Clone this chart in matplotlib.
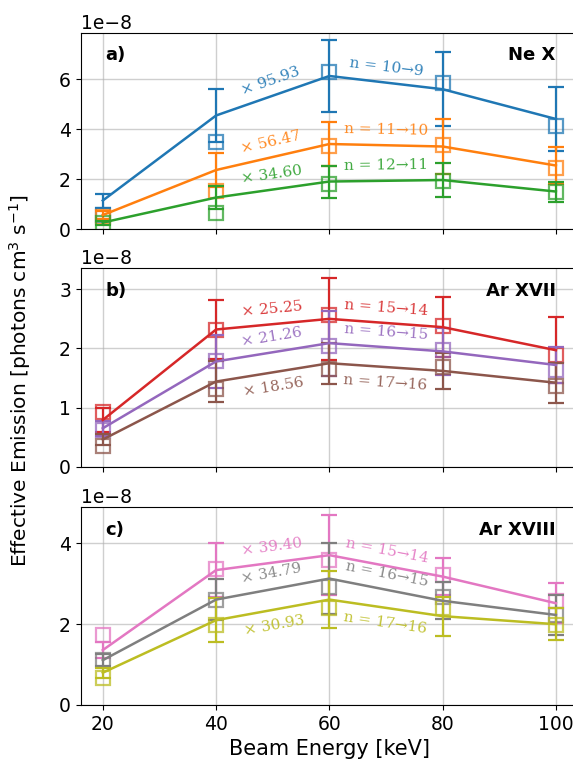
import numpy as np
import matplotlib
matplotlib.use("Agg")
import matplotlib.pyplot as plt

# Beam energies (keV)
energy = [20, 40, 60, 80, 100]

# Panel a) Ne X -- scaled model (line), its uncertainty, measured points (squares), in 1e-8
ne_model = [[1.15, 4.55, 6.13, 5.60, 4.41],
            [0.57, 2.37, 3.41, 3.31, 2.55],
            [0.27, 1.27, 1.91, 1.97, 1.51]]
ne_err = [[0.28, 1.05, 1.44, 1.47, 1.29],
          [0.15, 0.67, 0.86, 1.09, 0.73],
          [0.08, 0.45, 0.64, 0.67, 0.40]]
ne_meas = [[0.57, 3.50, 6.30, 5.84, 4.13],
           [0.50, 1.55, 3.33, 3.37, 2.44],
           [0.24, 0.67, 1.81, 1.93, 1.50]]
ne_scale = ["× 95.93", "× 56.47", "× 34.60"]
ne_trans = ["n = 10→9", "n = 11→10", "n = 12→11"]

# Panel b) Ar XVII
ar17_model = [[0.79, 2.32, 2.50, 2.36, 1.97],
              [0.65, 1.78, 2.09, 1.95, 1.72],
              [0.46, 1.44, 1.75, 1.62, 1.42]]
ar17_err = [[0.20, 0.50, 0.69, 0.51, 0.56],
            [0.13, 0.45, 0.55, 0.40, 0.30],
            [0.10, 0.35, 0.35, 0.31, 0.34]]
ar17_meas = [[0.93, 2.32, 2.57, 2.38, 1.89],
             [0.62, 1.78, 2.04, 1.97, 1.64],
             [0.35, 1.31, 1.66, 1.69, 1.37]]
ar17_scale = ["× 25.25", "× 21.26", "× 18.56"]
ar17_trans = ["n = 15→14", "n = 16→15", "n = 17→16"]

# Panel c) Ar XVIII
ar18_model = [[1.36, 3.34, 3.71, 3.18, 2.52],
              [1.11, 2.61, 3.13, 2.58, 2.23],
              [0.80, 2.10, 2.61, 2.20, 2.00]]
ar18_err = [[0.20, 0.66, 0.99, 0.45, 0.50],
            [0.15, 0.50, 0.87, 0.46, 0.50],
            [0.12, 0.55, 0.70, 0.48, 0.40]]
ar18_meas = [[1.73, 3.36, 3.59, 3.22, 2.58],
             [1.11, 2.61, 2.91, 2.68, 2.23],
             [0.66, 1.98, 2.39, 2.39, 1.98]]
ar18_scale = ["× 39.40", "× 34.79", "× 30.93"]
ar18_trans = ["n = 15→14", "n = 16→15", "n = 17→16"]

panels = [
    ("a)", "Ne X", ne_model, ne_err, ne_meas, ne_scale, ne_trans,
     ["C0", "C1", "C2"], [1, 1, 1], 7.86, [0, 2, 4, 6]),
    ("b)", "Ar XVII", ar17_model, ar17_err, ar17_meas, ar17_scale, ar17_trans,
     ["C3", "C4", "C5"], [1, 1, -1], 3.36, [0, 1, 2, 3]),
    ("c)", "Ar XVIII", ar18_model, ar18_err, ar18_meas, ar18_scale, ar18_trans,
     ["C6", "C7", "C8"], [1, 1, -1], 4.91, [0, 2, 4]),
]

plt.rcParams['font.size'] = 13.5
W, H = 573, 775
fig = plt.figure(figsize=(W / 100, H / 100), dpi=100)

# axes boxes in pixels: (top, bottom); the right edge runs past the figure
boxes = [(32.7, 229.3), (268.0, 466.7), (506.7, 705.0)]
left_px, right_px = 80.7, 578.0

axes = []
for (top, bot) in boxes:
    ax = fig.add_axes([left_px / W, 1 - bot / H, (right_px - left_px) / W, (bot - top) / H])
    axes.append(ax)

for ax, (tag, ion, model, err, meas, scale, trans, cols, sides, ytop, yt) in zip(axes, panels):
    ax.set_xlim(16.1, 103.9)
    ax.set_ylim(0, ytop * 1e-8)
    ax.set_yticks(np.array(yt) * 1e-8)
    ax.set_xticks(energy)
    ax.grid(True, color='#b0b0b0', alpha=0.6, lw=1.0)
    ax.set_axisbelow(True)
    ax.spines['right'].set_visible(False)
    for m, e, s, c in zip(model, err, meas, cols):
        ax.errorbar(energy, np.array(m) * 1e-8, yerr=np.array(e) * 1e-8, color=c,
                    lw=1.8, capsize=6, capthick=1.6, elinewidth=1.6)
        ax.plot(energy, np.array(s) * 1e-8, 's', mfc='none', mec=c, ms=10, mew=1.6, alpha=0.75)
    ax.text(0.05, 0.93, tag, transform=ax.transAxes, fontweight='bold', fontsize=13, va='top')
    ax.text(0.955, 0.93, ion, transform=ax.transAxes, fontweight='bold', fontsize=13,
            va='top', ha='right')
    if ax is not axes[-1]:
        ax.tick_params(labelbottom=False)

axes[-1].set_xlabel("Beam Energy [keV]", fontsize=15)
fig.text(20 / W, 1 - 381 / H, r"Effective Emission [photons cm$^3$ s$^{-1}$]",
         rotation=90, ha='center', va='center', fontsize=14.5)

# rotated labels along the 40-60 and 60-80 segments
for ax, (tag, ion, model, err, meas, scale, trans, cols, sides, ytop, yt) in zip(axes, panels):
    for m, c, lab1, lab2, sd in zip(model, cols, scale, trans, sides):
        for i, lab in ((1, lab1), (2, lab2)):
            x0, x1 = energy[i], energy[i + 1]
            y0, y1 = m[i] * 1e-8, m[i + 1] * 1e-8
            p0 = ax.transData.transform((x0, y0))
            p1 = ax.transData.transform((x1, y1))
            ang = np.degrees(np.arctan2(p1[1] - p0[1], p1[0] - p0[0]))
            xm, ym = (x0 + x1) / 2, (y0 + y1) / 2
            ax.annotate(lab, (xm, ym), xytext=(0, 6 * sd), textcoords='offset points',
                        rotation=ang, rotation_mode='anchor', ha='center',
                        va='bottom' if sd > 0 else 'top', color=c, fontsize=11,
                        family='DejaVu Serif', alpha=0.9)

fig.savefig("out.png", dpi=100)
